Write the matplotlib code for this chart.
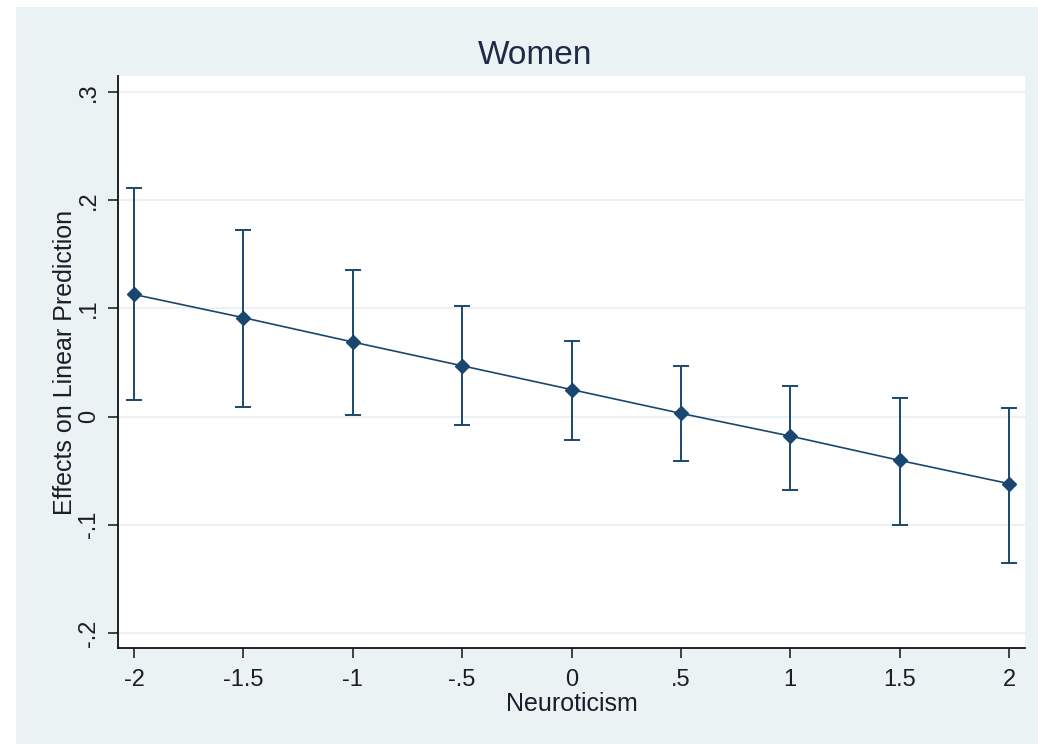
import numpy as np
import matplotlib
matplotlib.use('Agg')
import matplotlib.pyplot as plt
from matplotlib.patches import Rectangle

plt.rcParams['font.family'] = ['Liberation Sans', 'DejaVu Sans']

# neuroticism values and marginal effects with 95% CI
neuro = [-2, -1.5, -1, -0.5, 0, 0.5, 1, 1.5, 2]
effect = [0.113, 0.0915, 0.069, 0.047, 0.025, 0.003, -0.018, -0.0405, -0.062]
ci_low = [0.0155, 0.009, 0.0012, -0.008, -0.022, -0.041, -0.068, -0.1005, -0.135]
ci_high = [0.211, 0.173, 0.136, 0.102, 0.070, 0.047, 0.028, 0.017, 0.0075]

xticks = [-2, -1.5, -1, -0.5, 0, 0.5, 1, 1.5, 2]
xtick_labels = ['-2', '-1.5', '-1', '-.5', '0', '.5', '1', '1.5', '2']
yticks = [-0.2, -0.1, 0, 0.1, 0.2, 0.3]
ytick_labels = ['-.2', '-.1', '0', '.1', '.2', '.3']

navy = '#1a476f'
bg = '#eaf2f3'
txt = '#1c1c2a'

fig = plt.figure(figsize=(10.38, 7.44), dpi=100, facecolor='white')
fig.patches.append(Rectangle((16 / 1038, 0), 1, 1 - 7 / 744, transform=fig.transFigure,
                             facecolor=bg, edgecolor='none', zorder=-10))

ax = fig.add_axes([118 / 1038, 1 - 648 / 744, (1025 - 118) / 1038, (648 - 76) / 744])
ax.set_facecolor('white')

x = np.array(neuro)
y = np.array(effect)
lo = y - np.array(ci_low)
hi = np.array(ci_high) - y
ax.errorbar(x, y, yerr=[lo, hi], fmt='none', ecolor=navy, elinewidth=1.4,
            capsize=5.5, capthick=1.4, zorder=3)
ax.plot(x, y, color=navy, linewidth=1.2, marker='D', markersize=7,
        markerfacecolor=navy, markeredgecolor=navy, zorder=4)

ax.set_xlim(-2.073, 2.073)
ax.set_ylim(-0.214, 0.315)
ax.set_xticks(xticks)
ax.set_xticklabels(xtick_labels)
ax.set_yticks(yticks)
ax.set_yticklabels(ytick_labels, rotation=90, va='center')
ax.grid(axis='y', color=bg, linewidth=1.5, zorder=0)
ax.set_axisbelow(True)

for side in ['top', 'right']:
    ax.spines[side].set_visible(False)
for side in ['left', 'bottom']:
    ax.spines[side].set_linewidth(1.3)
    ax.spines[side].set_color('#111111')

ax.tick_params(axis='both', length=7, width=1.3, color='#333333',
               labelsize=17, labelcolor=txt)
ax.tick_params(axis='x', pad=8)
ax.tick_params(axis='y', pad=6)

ax.set_xlabel('Neuroticism', fontsize=18, color=txt, labelpad=1)
ax.set_ylabel('Effects on Linear Prediction', fontsize=18, color=txt, labelpad=1)
fig.text(535 / 1038, 1 - 55 / 744, 'Women', fontsize=24, color='#1e2a48',
         ha='center', va='center')

fig.savefig('out.png', dpi=100, facecolor=fig.get_facecolor())
